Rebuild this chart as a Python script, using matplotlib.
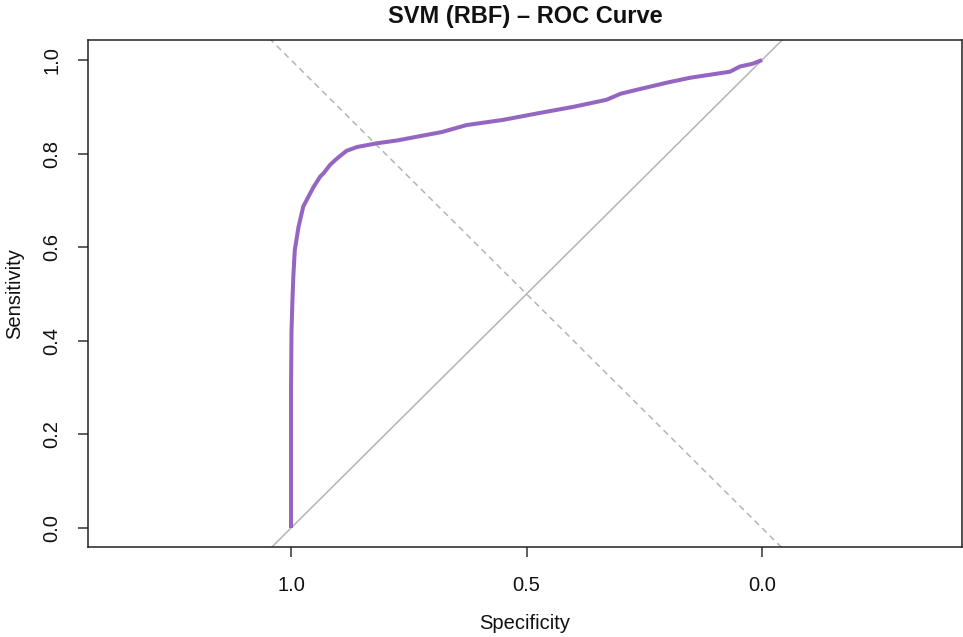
import matplotlib
matplotlib.use("Agg")
import matplotlib.pyplot as plt

plt.rcParams['font.family'] = ['Liberation Sans', 'DejaVu Sans']

# ROC curve points (specificity, sensitivity)
specificity = [1.0, 1.0, 0.999, 0.997, 0.995, 0.992, 0.984, 0.974, 0.963, 0.952,
               0.938, 0.931, 0.917, 0.903, 0.882, 0.860, 0.818, 0.775, 0.733,
               0.680, 0.627, 0.550, 0.471, 0.400, 0.330, 0.300, 0.259, 0.200,
               0.153, 0.068, 0.047, 0.020, 0.0]
sensitivity = [0.0, 0.30, 0.42, 0.487, 0.54, 0.594, 0.644, 0.687, 0.708, 0.729,
               0.751, 0.758, 0.776, 0.789, 0.806, 0.814, 0.822, 0.828, 0.836,
               0.846, 0.861, 0.872, 0.887, 0.900, 0.915, 0.928, 0.938, 0.952,
               0.962, 0.975, 0.986, 0.992, 1.0]

x_ticks = [1.0, 0.5, 0.0]
y_ticks = [0.0, 0.2, 0.4, 0.6, 0.8, 1.0]
x_range = (1.431, -0.4246)
y_range = (-0.0406, 1.0427)

fig = plt.figure(figsize=(9.63, 6.37), dpi=100)
ax = fig.add_axes([0.0914, 0.1413, 0.9076, 0.7959])
ax.set_xlim(*x_range)
ax.set_ylim(*y_range)

# chance diagonal and the sensitivity = specificity reference
ax.plot([2, -1], [-1, 2], color='#b4b4b4', lw=1.1, zorder=1)
ax.plot([-1, 2], [-1, 2], color='#b4b4b4', lw=1.1, ls=(0, (4, 3)), zorder=1)

ax.plot(specificity, sensitivity, color='#9466c2', lw=2.9,
        solid_capstyle='butt', solid_joinstyle='round', zorder=3)

ax.set_xticks(x_ticks)
ax.set_xticklabels([f"{v:.1f}" for v in x_ticks])
ax.set_yticks(y_ticks)
ax.set_yticklabels([f"{v:.1f}" for v in y_ticks], rotation=90, va='center')
ax.tick_params(axis='both', direction='out', length=7, width=1.1,
               color='#333333', labelsize=14.5, labelcolor='#111111')
ax.tick_params(axis='x', pad=14)
ax.tick_params(axis='y', pad=12)

for s in ax.spines.values():
    s.set_color('#222222')
    s.set_linewidth(1.1)

ax.set_xlabel('Specificity', fontsize=14.5, color='#111111', va='center')
ax.xaxis.set_label_coords(0.5, -0.150)
ax.set_ylabel('Sensitivity', fontsize=14.5, color='#111111', va='center')
ax.yaxis.set_label_coords(-0.0835, 0.5)
ax.set_title('SVM (RBF) \u2013 ROC Curve', fontsize=17, fontweight='bold',
             pad=12, color='#111111')

fig.savefig('out.png', dpi=100)
